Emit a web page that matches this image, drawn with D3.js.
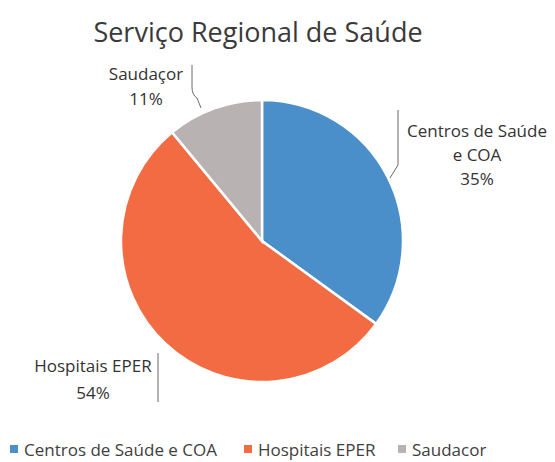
<!DOCTYPE html>
<html>
<head>
<meta charset="utf-8">
<script src="https://cdn.jsdelivr.net/npm/d3@7"></script>
<style>
  body { margin: 0; background: #fff; }
  text { font-family: "Open Sans", "Noto Sans", sans-serif; }
</style>
</head>
<body>
<svg width="555" height="462"></svg>
<script>
// data
var categories = ["Centros de Saúde e COA", "Hospitais EPER", "Saudacor"];
var values = [35, 54, 11];
var labelLines = [["Centros de Saúde", "e COA"], ["Hospitais EPER"], ["Saudaçor"]];
var colors = ["#4a8fca", "#f26b43", "#b8b2b2"];

var svg = d3.select("svg");
var cx = 262, cy = 241, r = 141;

// title
svg.append("text")
  .attr("x", 258)
  .attr("y", 42)
  .attr("text-anchor", "middle")
  .style("font-size", "27px")
  .style("fill", "#3a3a3a")
  .text("Serviço Regional de Saúde");

var pie = d3.pie().sort(null).value(function(d) { return d; });
var arc = d3.arc().innerRadius(0).outerRadius(r);
var total = d3.sum(values);

var g = svg.append("g").attr("transform", "translate(" + cx + "," + cy + ")");
g.selectAll("path")
  .data(pie(values))
  .enter().append("path")
  .attr("d", arc)
  .attr("fill", function(d, i) { return colors[i]; })
  .attr("stroke", "#fff")
  .attr("stroke-width", 2.5);

// data labels (positions set by hand like excel's dragged labels)
var labelPos = [
  { x: 477, y: 137, dy: 24 },
  { x: 93, y: 372, dy: 27 },
  { x: 146, y: 80, dy: 25 }
];
var leaders = [
  "M398,110 V165 L390,178",
  "M158,353 V402",
  "M192,65 V87 Q192,95 197,98 L201,108"
];

svg.selectAll(".leader")
  .data(leaders)
  .enter().append("path")
  .attr("class", "leader")
  .attr("d", function(d) { return d; })
  .attr("fill", "none")
  .attr("stroke", "#6b6b6b")
  .attr("stroke-width", 1);

var pct = d3.format(".0%");
values.forEach(function(v, i) {
  var p = labelPos[i];
  var t = svg.append("text")
    .attr("text-anchor", "middle")
    .style("font-size", "17px")
    .style("fill", "#333");
  var lines = labelLines[i].concat([pct(v / total)]);
  lines.forEach(function(s, j) {
    t.append("tspan")
      .attr("x", p.x)
      .attr("y", p.y + j * p.dy)
      .text(s);
  });
});

// legend
var legendX = [10, 244, 398];
var lg = svg.selectAll(".lg")
  .data(categories)
  .enter().append("g")
  .attr("class", "lg")
  .attr("transform", function(d, i) { return "translate(" + legendX[i] + ",450)"; });
lg.append("rect")
  .attr("x", 0).attr("y", -5)
  .attr("width", 8).attr("height", 8)
  .attr("fill", function(d, i) { return colors[i]; });
lg.append("text")
  .attr("x", 14)
  .attr("y", 6)
  .style("font-size", "17px")
  .style("fill", "#404040")
  .text(function(d) { return d; });
</script>
</body>
</html>
